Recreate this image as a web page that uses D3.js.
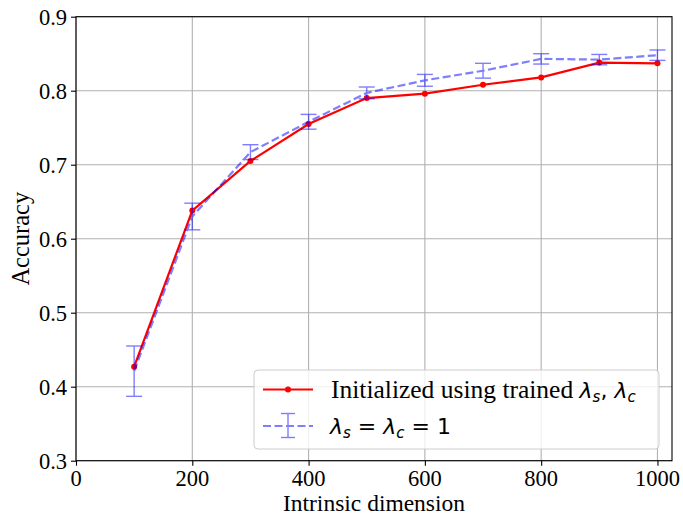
<!DOCTYPE html>
<html lang="en">
<head>
  <meta charset="UTF-8" />
  <title>Accuracy vs intrinsic dimension</title>
  <script src="https://d3js.org/d3.v7.min.js"></script>
  <style>
    body { margin: 0; background: #fff; }
  </style>
</head>
<body>
  <div id="chart"></div>
  <script>
    const dims = [100, 200, 300, 400, 500, 600, 700, 800, 900, 1000];
    const trained = [0.427, 0.638, 0.705, 0.755, 0.790, 0.796, 0.808, 0.818, 0.838, 0.837];
    const fixedMean = [0.421, 0.630, 0.717, 0.758, 0.797, 0.814, 0.827, 0.843, 0.842, 0.848];
    const fixedErr = [0.034, 0.018, 0.010, 0.010, 0.008, 0.008, 0.010, 0.007, 0.007, 0.007];
    const xTicks = [0, 200, 400, 600, 800, 1000];
    const yTicks = [0.3, 0.4, 0.5, 0.6, 0.7, 0.8, 0.9];

    const SERIF = '"Liberation Serif"';
    const SANS = '"DejaVu Sans"';

    const W = 683, H = 516;
    const svg = d3.select('#chart').append('svg')
      .attr('width', W).attr('height', H);

    const x = d3.scaleLinear().domain([0, 1025]).range([76, 672]);
    const y = d3.scaleLinear().domain([0.3, 0.9]).range([460.7, 16.7]);

    // grid
    svg.append('g').selectAll('line').data(xTicks).join('line')
      .attr('x1', d => x(d)).attr('x2', d => x(d))
      .attr('y1', y(0.3)).attr('y2', y(0.9))
      .attr('stroke', '#b0b0b0').attr('stroke-width', 1.1);
    svg.append('g').selectAll('line').data(yTicks).join('line')
      .attr('x1', x(0)).attr('x2', x(1025))
      .attr('y1', d => y(d)).attr('y2', d => y(d))
      .attr('stroke', '#b0b0b0').attr('stroke-width', 1.1);

    // axes
    const xAxis = svg.append('g')
      .attr('transform', `translate(0,${y(0.3)})`)
      .call(d3.axisBottom(x).tickValues(xTicks).tickSize(5).tickFormat(''));
    const yAxis = svg.append('g')
      .attr('transform', `translate(${x(0)},0)`)
      .call(d3.axisLeft(y).tickValues(yTicks).tickSize(5).tickFormat(''));
    [xAxis, yAxis].forEach(g => {
      g.select('.domain').remove();
      g.selectAll('line').attr('stroke', '#000').attr('stroke-width', 1.1);
    });
    svg.append('g').selectAll('text').data(xTicks).join('text')
      .attr('x', d => x(d)).attr('y', y(0.3) + 25)
      .attr('text-anchor', 'middle')
      .style('font-family', SERIF).style('font-size', '22.5px')
      .text(d => d3.format('d')(d));
    svg.append('g').selectAll('text').data(yTicks).join('text')
      .attr('x', x(0) - 9).attr('y', d => y(d) + 8)
      .attr('text-anchor', 'end')
      .style('font-family', SERIF).style('font-size', '22.5px')
      .text(d => d3.format('.1f')(d));

    // frame
    svg.append('rect')
      .attr('x', x(0)).attr('y', y(0.9))
      .attr('width', x(1025) - x(0)).attr('height', y(0.3) - y(0.9))
      .attr('fill', 'none').attr('stroke', '#000').attr('stroke-width', 1.1);

    // labels
    svg.append('text')
      .attr('x', (x(0) + x(1025)) / 2).attr('y', 511)
      .attr('text-anchor', 'middle')
      .style('font-family', SERIF).style('font-size', '23.5px')
      .text('Intrinsic dimension');
    svg.append('text')
      .attr('transform', `translate(29,${(y(0.3) + y(0.9)) / 2}) rotate(-90)`)
      .attr('text-anchor', 'middle')
      .style('font-family', SERIF).style('font-size', '24.5px')
      .text('Accuracy');

    // trained series
    const line = d3.line().x((d, i) => x(dims[i])).y(d => y(d));
    svg.append('path').datum(trained)
      .attr('d', line)
      .attr('fill', 'none').attr('stroke', '#ff0000').attr('stroke-width', 2.2);
    svg.append('g').selectAll('circle').data(trained).join('circle')
      .attr('cx', (d, i) => x(dims[i])).attr('cy', d => y(d))
      .attr('r', 3).attr('fill', '#ff0000');

    // lambda = 1 series with error bars
    const blue = svg.append('g').attr('opacity', 0.5);
    blue.append('path').datum(fixedMean)
      .attr('d', line)
      .attr('fill', 'none').attr('stroke', '#0000ff').attr('stroke-width', 2.2)
      .attr('stroke-dasharray', '8,3.5');
    const eb = blue.append('g').selectAll('g').data(fixedMean).join('g');
    eb.append('line')
      .attr('x1', (d, i) => x(dims[i])).attr('x2', (d, i) => x(dims[i]))
      .attr('y1', (d, i) => y(d - fixedErr[i])).attr('y2', (d, i) => y(d + fixedErr[i]))
      .attr('stroke', '#0000ff').attr('stroke-width', 1.4);
    [-1, 1].forEach(s => {
      eb.append('line')
        .attr('x1', (d, i) => x(dims[i]) - 8).attr('x2', (d, i) => x(dims[i]) + 8)
        .attr('y1', (d, i) => y(d + s * fixedErr[i])).attr('y2', (d, i) => y(d + s * fixedErr[i]))
        .attr('stroke', '#0000ff').attr('stroke-width', 1.4);
    });

    // legend
    const lg = svg.append('g');
    lg.append('rect')
      .attr('x', 254).attr('y', 370).attr('width', 405).attr('height', 79)
      .attr('rx', 4).attr('fill', '#fff').attr('fill-opacity', 0.8)
      .attr('stroke', '#cccccc').attr('stroke-width', 1);
    lg.append('line')
      .attr('x1', 263).attr('x2', 313).attr('y1', 389.5).attr('y2', 389.5)
      .attr('stroke', '#ff0000').attr('stroke-width', 2.2);
    lg.append('circle').attr('cx', 288).attr('cy', 389.5).attr('r', 3).attr('fill', '#ff0000');

    const t1 = lg.append('text').attr('x', 331).attr('y', 398)
      .style('font-family', SERIF).style('font-size', '25.5px');
    t1.append('tspan').text('Initialized using trained ');
    t1.append('tspan').style('font-family', SANS).style('font-size', '22px').style('font-style', 'italic').text('λ');
    t1.append('tspan').style('font-family', SANS).style('font-size', '15px').style('font-style', 'italic').attr('dy', 4).text('s');
    t1.append('tspan').style('font-family', SANS).style('font-size', '22px').attr('dy', -4).text(', ');
    t1.append('tspan').style('font-family', SANS).style('font-size', '22px').style('font-style', 'italic').text('λ');
    t1.append('tspan').style('font-family', SANS).style('font-size', '15px').style('font-style', 'italic').attr('dy', 4).text('c');

    const lb = lg.append('g').attr('opacity', 0.5);
    lb.append('line')
      .attr('x1', 263).attr('x2', 313).attr('y1', 426).attr('y2', 426)
      .attr('stroke', '#0000ff').attr('stroke-width', 2.2).attr('stroke-dasharray', '8,3.5');
    lb.append('line')
      .attr('x1', 288).attr('x2', 288).attr('y1', 413.5).attr('y2', 437.5)
      .attr('stroke', '#0000ff').attr('stroke-width', 1.4);
    [413.5, 437.5].forEach(cy => lb.append('line')
      .attr('x1', 281).attr('x2', 295).attr('y1', cy).attr('y2', cy)
      .attr('stroke', '#0000ff').attr('stroke-width', 1.4));

    const t2 = lg.append('text').attr('x', 330).attr('y', 434)
      .style('font-family', SANS).style('font-size', '22px');
    t2.append('tspan').style('font-style', 'italic').text('λ');
    t2.append('tspan').style('font-style', 'italic').style('font-size', '15px').attr('dy', 4).text('s');
    t2.append('tspan').attr('dy', -4).text(' = ');
    t2.append('tspan').style('font-style', 'italic').text('λ');
    t2.append('tspan').style('font-style', 'italic').style('font-size', '15px').attr('dy', 4).text('c');
    t2.append('tspan').attr('dy', -4).text(' = 1');
  </script>
</body>
</html>
